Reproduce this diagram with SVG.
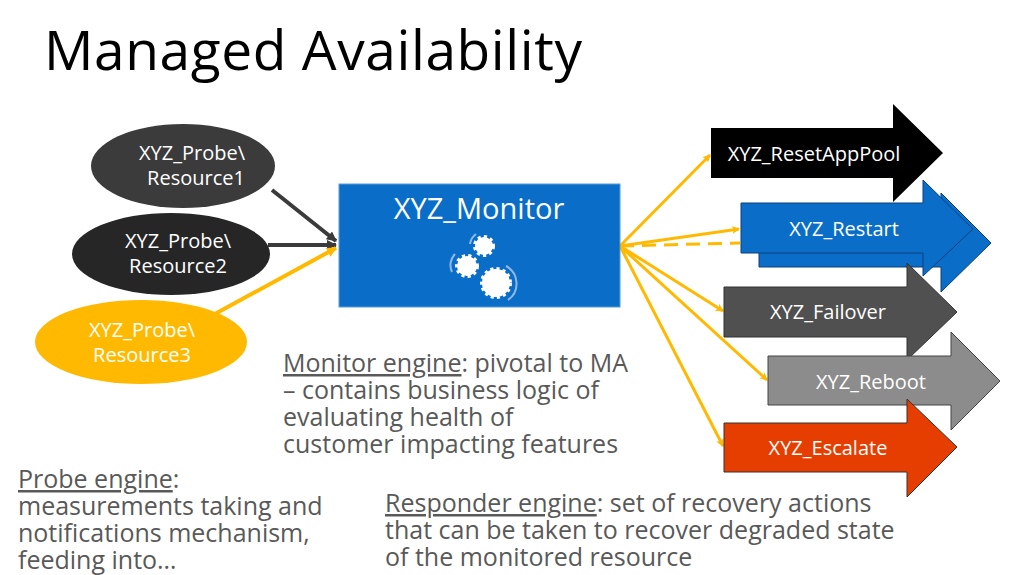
<svg xmlns="http://www.w3.org/2000/svg" width="1024" height="575" viewBox="0 0 1024 575">
<style>
text{font-family:"Open Sans","Noto Sans",sans-serif}
.w{fill:#fff;font-size:20px;text-anchor:middle}
.g{fill:#595959;font-size:25px}
.u{text-decoration:underline}
.y{stroke:#FFB900;stroke-width:3;fill:none}
</style>
<defs>
<marker id="a" markerWidth="8" markerHeight="8" refX="7" refY="4" orient="auto" markerUnits="userSpaceOnUse" viewBox="0 0 8 8"><path d="M0,0 L8,4 L0,8 L2,4 Z" fill="#FFB900"/></marker>
<marker id="d" markerWidth="10" markerHeight="10" refX="9" refY="5" orient="auto" markerUnits="userSpaceOnUse" viewBox="0 0 10 10"><path d="M0,0 L10,5 L0,10 Z" fill="#3b3b3b"/></marker>
<marker id="ay" markerWidth="10" markerHeight="10" refX="9" refY="5" orient="auto" markerUnits="userSpaceOnUse" viewBox="0 0 10 10"><path d="M0,0 L10,5 L0,10 Z" fill="#FFB900"/></marker>
</defs>
<rect width="1024" height="575" fill="#fff"/>
<text x="44" y="70" font-size="55" fill="#000" textLength="538">Managed Availability</text>
<g id="connectors">
<line x1="272" y1="190" x2="336" y2="241" stroke="#3b3b3b" stroke-width="4" marker-end="url(#d)"/>
<line x1="268" y1="245" x2="336" y2="245" stroke="#3b3b3b" stroke-width="4" marker-end="url(#d)"/>
<line x1="213" y1="315" x2="336" y2="248" stroke="#FFB900" stroke-width="4" marker-end="url(#ay)"/>
<line class="y" x1="620" y1="246" x2="710" y2="155" marker-end="url(#a)"/>
<line class="y" x1="620" y1="246" x2="739" y2="229" marker-end="url(#a)"/>
<line class="y" x1="620" y1="246" x2="740" y2="243" stroke-dasharray="14,8" stroke-width="4"/>
<line class="y" x1="620" y1="246" x2="723" y2="311" marker-end="url(#a)"/>
<line class="y" x1="620" y1="246" x2="767" y2="380" marker-end="url(#a)"/>
<line class="y" x1="620" y1="246" x2="723" y2="446" marker-end="url(#a)"/>
</g>
<g id="res1"><ellipse cx="183" cy="166" rx="92" ry="42" fill="#3b3b3b"/><text class="w" x="192" y="160">XYZ_Probe\</text><text class="w" x="196" y="185">Resource1</text></g>
<g id="res2"><ellipse cx="171" cy="254" rx="99" ry="41" fill="#262626"/><text class="w" x="178" y="248">XYZ_Probe\</text><text class="w" x="178" y="273">Resource2</text></g>
<g id="res3"><ellipse cx="141" cy="342" rx="106" ry="42" fill="#FFB900"/><text class="w" x="142" y="337">XYZ_Probe\</text><text class="w" x="142" y="362">Resource3</text></g>
<g id="monitor">
<rect x="339" y="184" width="281" height="123" fill="#0a6ec8" stroke="#5a9bd5" stroke-width="1"/>
<text x="479" y="219" fill="#fff" font-size="29" text-anchor="middle">XYZ_Monitor</text>
<g fill="#fff" stroke="#fff" stroke-width="4" stroke-dasharray="3,3">
<circle cx="484" cy="246" r="9"/><circle cx="467" cy="266" r="10"/><circle cx="496" cy="283" r="14"/>
</g>
<g fill="none" stroke="#8fb8e8" stroke-width="2">
<path d="M470,244 A15,15 0 0 1 476,234"/><path d="M452,272 A16,16 0 0 1 455,254"/><path d="M506,266 A20,20 0 0 1 508,300"/>
</g>
</g>
<g id="reset"><path d="M711,128 H893 V104 L943,153 L893,202 V178 H711 Z" fill="#000"/><text class="w" x="814" y="161">XYZ_ResetAppPool</text></g>
<g id="restart2"><path d="M759,217 H941 V193 L991,243 L941,292 V267 H759 Z" fill="#0a6ec8" stroke="#0a3f7a" stroke-width="1"/></g>
<g id="restart"><path d="M741,203 H923 V180 L973,229 L923,276 V253 H741 Z" fill="#0a6ec8" stroke="#0a3f7a" stroke-width="1"/><text class="w" x="844" y="236">XYZ_Restart</text></g>
<g id="failover"><path d="M724,287 H907 V263 L957,312 L907,360 V337 H724 Z" fill="#505050" stroke="#333" stroke-width="1"/><text class="w" x="828" y="319">XYZ_Failover</text></g>
<g id="reboot"><path d="M768,356 H951 V332 L1000,381 L951,430 V405 H768 Z" fill="#8c8c8c" stroke="#444" stroke-width="1"/><text class="w" x="871" y="389">XYZ_Reboot</text></g>
<g id="escalate"><path d="M724,423 H907 V399 L957,447 L907,497 V472 H724 Z" fill="#e53e00" stroke="#333" stroke-width="1"/><text class="w" x="828" y="455">XYZ_Escalate</text></g>
<g class="g">
<text x="283" y="372"><tspan class="u">Monitor engine</tspan>: pivotal to MA</text>
<text x="283" y="399">– contains business logic of</text>
<text x="283" y="426">evaluating health of</text>
<text x="283" y="453">customer impacting features</text>
<text x="18" y="488"><tspan class="u">Probe engine</tspan>:</text>
<text x="18" y="515">measurements taking and</text>
<text x="18" y="542">notifications mechanism,</text>
<text x="18" y="569">feeding into…</text>
<text x="385" y="512"><tspan class="u">Responder engine</tspan>: set of recovery actions</text>
<text x="385" y="539">that can be taken to recover degraded state</text>
<text x="385" y="566">of the monitored resource</text>
</g>
</svg>
